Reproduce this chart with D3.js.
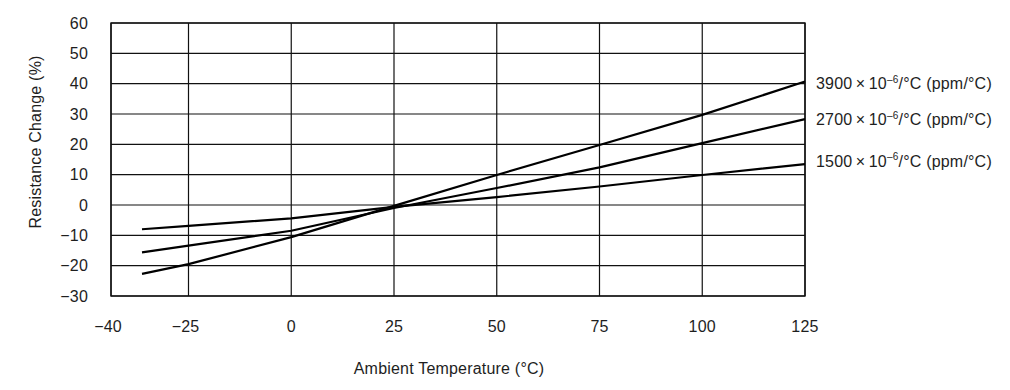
<!DOCTYPE html>
<html>
<head>
<meta charset="utf-8">
<script src="https://cdn.jsdelivr.net/npm/d3@7"></script>
<style>
  body { margin: 0; background: #fff; }
  svg { display: block; }
  text { font-family: "Liberation Sans", Arial, sans-serif; fill: #1e1e1e; letter-spacing: 0.2px; }
</style>
</head>
<body>
<svg id="chart" width="1010" height="390"></svg>
<script>
// ---- data ----
const temps = [-34, -25, 0, 25, 50, 75, 100, 125];
const tcr3900 = [-22.7, -19.5, -10.6, -0.3, 9.9, 19.8, 29.7, 40.7];
const tcr2700 = [-15.6, -13.4, -8.5, -1.0, 5.6, 12.4, 20.4, 28.3];
const tcr1500 = [-8.0, -6.9, -4.4, -0.6, 2.6, 6.1, 9.9, 13.5];
const seriesNames = ["3900", "2700", "1500"];
const xTicks = [-40, -25, 0, 25, 50, 75, 100, 125];
const yTicks = [-30, -20, -10, 0, 10, 20, 30, 40, 50, 60];
const xTitle = "Ambient Temperature (°C)";
const yTitle = "Resistance Change (%)";

const seriesValues = [tcr3900, tcr2700, tcr1500];

const svg = d3.select("#chart");
const L = 111, R = 805, T = 23, B = 296;
const FS = 16;

// x axis: left segment (-40 to -25) is drawn wider than the rest, as in the reference
const x = d3.scaleLinear().domain([-40, -25, 125]).range([L, 188.5, R]);
const y = d3.scaleLinear().domain([-30, 60]).range([B, T]);

const fmt = v => (v < 0 ? "\u2212" + Math.abs(v) : String(v));

// gridlines
const g = svg.append("g");
g.selectAll("line.v").data(xTicks).join("line")
  .attr("x1", d => x(d)).attr("x2", d => x(d))
  .attr("y1", T).attr("y2", B)
  .attr("stroke", "#111").attr("stroke-width", 1.2);
g.selectAll("line.h").data(yTicks).join("line")
  .attr("x1", L).attr("x2", R)
  .attr("y1", d => y(d)).attr("y2", d => y(d))
  .attr("stroke", "#111").attr("stroke-width", 1.2);
g.append("rect").attr("x", L).attr("y", T).attr("width", R - L).attr("height", B - T)
  .attr("fill", "none").attr("stroke", "#111").attr("stroke-width", 1.4);

// tick labels
svg.append("g").selectAll("text").data(yTicks).join("text")
  .attr("x", 88).attr("y", d => y(d) + 5.5)
  .attr("text-anchor", "end").attr("font-size", FS)
  .text(fmt);
svg.append("g").selectAll("text").data(xTicks).join("text")
  .attr("x", d => x(d) - (d < 0 ? 3 : 0)).attr("y", 331.5)
  .attr("text-anchor", "middle").attr("font-size", FS)
  .text(fmt);

// axis titles
svg.append("text").attr("x", 449).attr("y", 373.5).attr("text-anchor", "middle")
  .attr("font-size", FS).text(xTitle);
svg.append("text").attr("transform", "translate(40.5,142) rotate(-90)")
  .attr("text-anchor", "middle").attr("font-size", FS).text(yTitle);

// lines
const line = d3.line().x((d, i) => x(temps[i])).y(d => y(d));
svg.append("g").selectAll("path").data(seriesValues).join("path")
  .attr("d", d => line(d))
  .attr("fill", "none").attr("stroke", "#000").attr("stroke-width", 2.2)
  .attr("stroke-linejoin", "round");

// labels
const labels = svg.append("g").selectAll("text").data(seriesValues).join("text")
  .attr("x", 816)
  .attr("y", (d, i) => [89, 125, 166.5][i])
  .attr("font-size", FS);
labels.append("tspan").text((d, i) => seriesNames[i] + "\u2009\u00d7\u200910");
labels.append("tspan").attr("font-size", 10).attr("dy", -6.5).text("\u2013" + "6");
labels.append("tspan").attr("dy", 6.5).text("/°C (ppm/°C)");
</script>
</body>
</html>
